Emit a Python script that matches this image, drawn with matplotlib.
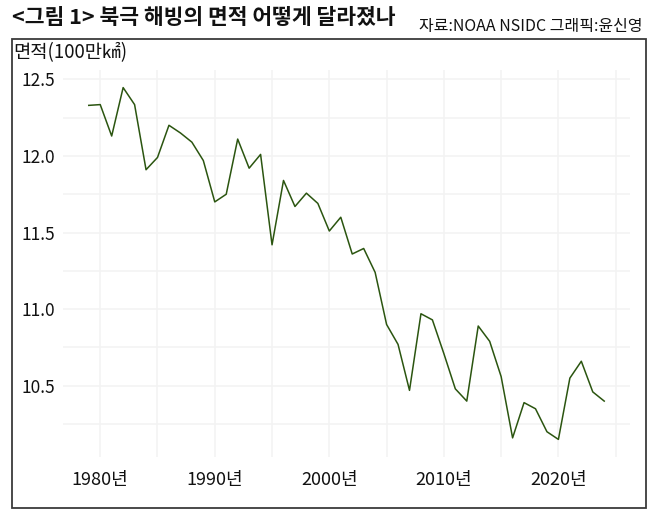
import matplotlib
matplotlib.use("Agg")
import matplotlib.pyplot as plt
from matplotlib.patches import Rectangle
from matplotlib.ticker import MultipleLocator, FuncFormatter

plt.rcParams['font.family'] = ['Noto Sans CJK KR', 'DejaVu Sans']

years = list(range(1979, 2025))
extent = [12.33, 12.335, 12.13, 12.446, 12.335, 11.91, 11.99, 12.20, 12.15, 12.09,
          11.97, 11.70, 11.75, 12.11, 11.92, 12.01, 11.42, 11.84, 11.67, 11.757,
          11.69, 11.51, 11.60, 11.36, 11.396, 11.24, 10.90, 10.77, 10.47, 10.97,
          10.93, 10.71, 10.48, 10.40, 10.89, 10.79, 10.56, 10.16, 10.39, 10.35,
          10.20, 10.15, 10.55, 10.66, 10.46, 10.40]

title = "<그림 1> 북극 해빙의 면적 어떻게 달라졌나"
source = "자료:NOAA NSIDC 그래픽:윤신영"
ylabel = "면적(100만㎢)"

W, H = 658, 520
fig = plt.figure(figsize=(W / 100, H / 100), dpi=100)
fig.patch.set_facecolor("white")

# outer box
fig.patches.append(Rectangle((11.5 / W, 1 - 508 / H), (646 - 11.5) / W, (508 - 38.5) / H,
                             transform=fig.transFigure, fill=False,
                             edgecolor="#3a3a3a", linewidth=1.3))

ax = fig.add_axes([63 / W, 1 - 457 / H, (630 - 63) / W, (457 - 70) / H])
ax.plot(years, extent, color="#2b5510", linewidth=1.1)

ax.xaxis.set_major_locator(MultipleLocator(10))
ax.xaxis.set_minor_locator(MultipleLocator(5))
ax.yaxis.set_major_locator(MultipleLocator(0.5))
ax.yaxis.set_minor_locator(MultipleLocator(0.25))
ax.xaxis.set_major_formatter(FuncFormatter(lambda v, p: f"{int(round(v))}년"))
ax.yaxis.set_major_formatter(FuncFormatter(lambda v, p: f"{v:.1f}"))

ax.grid(which="both", color="#f3f3f3", linewidth=1.2)
ax.set_axisbelow(True)
for s in ax.spines.values():
    s.set_visible(False)
ax.tick_params(which="both", length=0)
ax.tick_params(axis="x", labelsize=13, pad=10, colors="#111111")
ax.tick_params(axis="y", labelsize=12.5, pad=6, colors="#111111")

fig.text(12 / W, 1 - 18 / H, title, fontsize=15.5, fontweight="bold",
         ha="left", va="center", color="#111111")
fig.text(643 / W, 1 - 27 / H, source, fontsize=11.5, ha="right", va="center",
         color="#111111")
fig.text(13 / W, 1 - 53 / H, ylabel, fontsize=13.5, ha="left", va="center",
         color="#111111")

fig.savefig("out.png", dpi=100, facecolor="white")
